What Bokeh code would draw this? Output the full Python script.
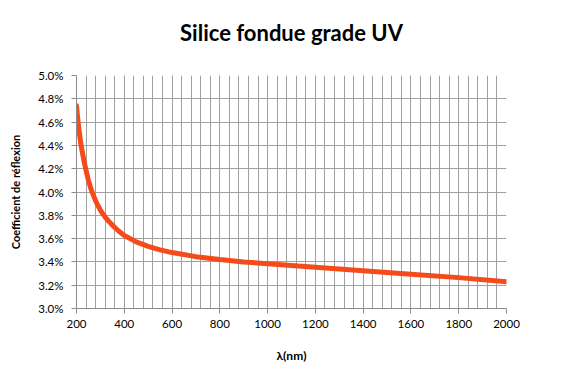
from bokeh.plotting import figure
from bokeh.models import FixedTicker, PrintfTickFormatter, Range1d, Title
from bokeh.embed import file_html
from bokeh.resources import INLINE

title_text = "Silice fondue grade UV"
x_label = "λ(nm)"
y_label = "Coefficient de réflexion"

wavelength_nm = [200, 205, 210, 215, 220, 230, 240, 250, 260, 270, 280, 290,
                 300, 310, 320, 335, 350, 375, 400, 450, 500, 550, 600, 700,
                 800, 900, 1000, 1200, 1400, 1600, 1800, 2000]
reflexion_pct = [4.74, 4.63, 4.54, 4.46, 4.39, 4.28, 4.185, 4.10, 4.03, 3.975,
                 3.925, 3.882, 3.845, 3.813, 3.785, 3.748, 3.716, 3.667,
                 3.627, 3.572, 3.533, 3.503, 3.48, 3.445, 3.42, 3.40, 3.385,
                 3.355, 3.325, 3.295, 3.265, 3.23]

x_major = list(range(200, 2001, 200))
x_minor = list(range(200, 2001, 40))
y_major = [round(3.0 + 0.2 * i, 1) for i in range(11)]

FONT = "Lato"
GRID = "#A0A0A0"
AXIS = "#8C8C8C"

p = figure(width=554, height=376, output_backend="svg", toolbar_location=None,
           x_range=Range1d(200, 2000), y_range=Range1d(3.0, 5.0),
           min_border_left=76, min_border_right=48, min_border_top=75,
           min_border_bottom=68)

p.title.text = title_text
p.title.text_font = FONT
p.title.text_font_size = "22px"
p.title.text_font_style = "bold"
p.title.text_color = "#000000"
p.title.align = "center"
p.title.standoff = 0

# blank spacer panel between the frame and the title
p.add_layout(Title(text=" ", text_font=FONT, text_font_size="10px",
                   standoff=16), "above")

p.outline_line_color = None
p.background_fill_color = "white"
p.border_fill_color = "white"

p.xaxis.ticker = FixedTicker(ticks=x_major, minor_ticks=x_minor)
p.yaxis.ticker = FixedTicker(ticks=y_major)
p.yaxis.formatter = PrintfTickFormatter(format="%.1f%%")

for ax in (p.xaxis, p.yaxis):
    ax.axis_line_color = AXIS
    ax.major_tick_line_color = AXIS
    ax.major_tick_out = 5
    ax.major_tick_in = 0
    ax.minor_tick_line_color = None
    ax.major_label_text_font = FONT
    ax.major_label_text_font_size = "11.5px"
    ax.major_label_text_color = "#000000"
    ax.axis_label_text_font = FONT
    ax.axis_label_text_font_style = "bold"
    ax.axis_label_text_color = "#000000"

p.xaxis.axis_label = x_label
p.xaxis.axis_label_text_font_size = "12px"
p.xaxis.major_label_standoff = 6
p.xaxis.axis_label_standoff = 17
p.yaxis.axis_label = y_label
p.yaxis.axis_label_text_font_size = "11px"
p.yaxis.major_label_standoff = 8
p.yaxis.axis_label_standoff = 13

p.xgrid.grid_line_color = GRID
p.xgrid.minor_grid_line_color = GRID
p.ygrid.grid_line_color = GRID

p.line(wavelength_nm, reflexion_pct, line_color="#F54A1A", line_width=5,
       line_cap="round", line_join="round")

open("out.html", "w").write(file_html(p, INLINE))
